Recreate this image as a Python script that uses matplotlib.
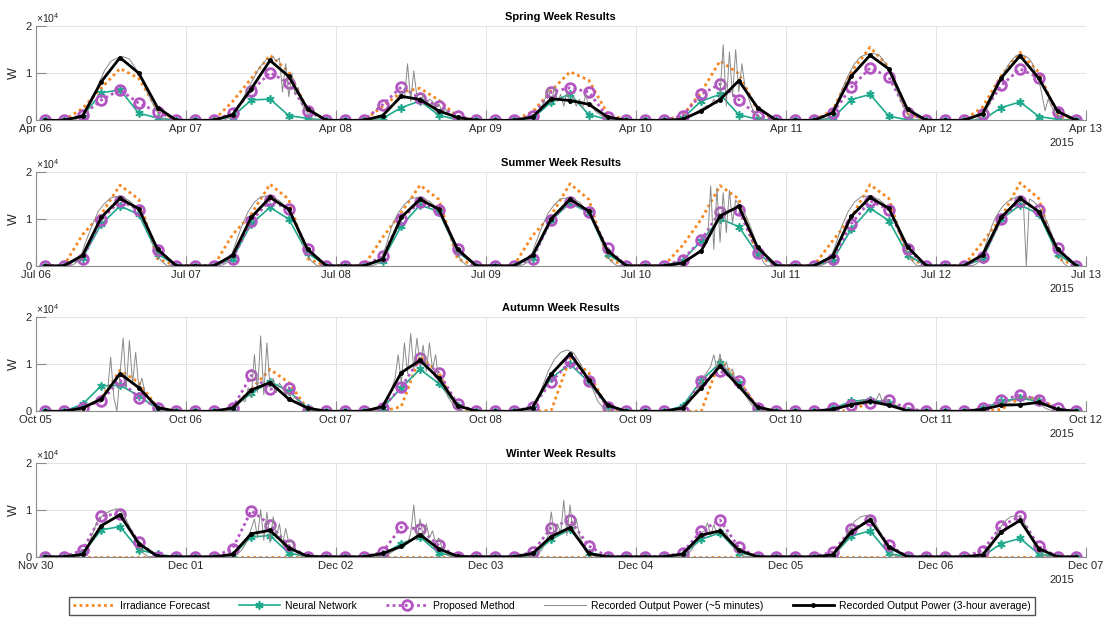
import numpy as np
import matplotlib.pyplot as plt
from datetime import date, timedelta

plt.rcParams['font.family'] = ['Liberation Sans', 'DejaVu Sans']
plt.rcParams['mathtext.fontset'] = 'custom'
plt.rcParams['mathtext.rm'] = 'Liberation Sans'

# 3-hour samples (values in units of 1e4 W), 8 per day
hours3 = [1.5, 4.5, 7.5, 10.5, 13.5, 16.5, 19.5, 22.5]

spring_irr = [0,0,0.25,0.68,1.10,0.89,0.22,0,  0,0,0.40,0.89,1.38,1.03,0.22,0,  0,0,0.29,0.60,0.68,0.43,0.08,0,
              0,0,0.18,0.63,1.03,0.85,0.14,0,  0,0,0.10,0.60,1.26,0.99,0.21,0,  0,0,0.21,1.03,1.55,1.13,0.14,0,
              0,0,0.28,0.95,1.44,1.02,0.10,0]
spring_nn = [0,0,0.08,0.58,0.65,0.15,0.05,0,  0,0,0.08,0.43,0.45,0.10,0.04,0,  0,0,0.04,0.27,0.41,0.11,0.01,0,
             0,0,0.04,0.39,0.56,0.12,0.02,0,  0,0,0.04,0.41,0.55,0.12,0.02,0,  0,0,0.04,0.44,0.55,0.09,0.01,0,
             0,0,0.01,0.27,0.39,0.08,0.02,0]
spring_pm = [0,0,0.11,0.43,0.65,0.36,0.18,0,  0,0,0.15,0.62,1.01,0.79,0.19,0,  0,0,0.33,0.71,0.47,0.30,0.09,0,
             0,0,0.10,0.60,0.69,0.60,0.07,0,  0,0,0.10,0.55,0.77,0.44,0.10,0,  0,0,0.15,0.70,1.11,0.92,0.15,0,
             0,0,0.14,0.74,1.09,0.90,0.18,0]
spring_avg = [0,0,0.09,0.82,1.33,1.00,0.27,0,  0,0,0.12,0.67,1.27,0.93,0.24,0,  0,0,0.10,0.51,0.44,0.20,0.06,0,
              0,0,0.07,0.46,0.42,0.34,0.07,0,  0,0,0.02,0.20,0.44,0.84,0.27,0,  0,0,0.16,0.94,1.38,1.09,0.23,0,
              0,0,0.14,0.90,1.37,0.89,0.19,0]

summer_irr = [0,0,0.66,1.10,1.71,1.41,0.15,0,  0,0,0.66,1.10,1.73,1.41,0.15,0,  0,0,0.60,1.13,1.71,1.41,0.15,0,
              0,0,0.64,1.08,1.74,1.41,0.15,0,  0,0,0.43,0.99,1.70,1.42,0.21,0,  0,0,0.53,1.03,1.72,1.43,0.18,0,
              0,0,0.50,1.03,1.76,1.43,0.16,0]
summer_nn = [0,0,0.17,0.88,1.27,1.09,0.26,0,  0,0,0.15,0.89,1.24,0.99,0.27,0,  0,0,0.11,0.85,1.29,1.15,0.29,0,
             0,0,0.17,0.97,1.33,1.13,0.25,0,  0,0,0.11,0.53,1.00,0.83,0.25,0,  0,0,0.11,0.78,1.22,0.96,0.23,0,
             0,0,0.14,0.99,1.29,1.10,0.25,0]
summer_pm = [0,0,0.15,0.98,1.38,1.19,0.34,0,  0,0,0.15,0.95,1.39,1.20,0.35,0,  0,0,0.20,1.00,1.35,1.18,0.35,0,
             0,0,0.15,0.98,1.36,1.15,0.37,0,  0,0,0.13,0.55,1.15,1.18,0.28,0,  0,0,0.14,0.89,1.38,1.19,0.35,0,
             0,0,0.18,1.00,1.38,1.19,0.37,0]
summer_avg = [0,0,0.22,1.03,1.43,1.21,0.35,0,  0,0,0.22,1.03,1.45,1.20,0.35,0,  0,0,0.14,1.03,1.41,1.20,0.35,0,
              0,0,0.22,1.00,1.41,1.16,0.32,0,  0,0,0.06,0.32,1.06,1.26,0.39,0,  0,0,0.20,1.05,1.45,1.22,0.40,0,
              0,0,0.23,1.03,1.43,1.15,0.35,0]

autumn_irr = [0,0,0.01,0.29,0.87,0.61,0.08,0,  0,0,0.05,0.47,0.89,0.61,0.05,0,  0,0,0,0.10,1.17,0.82,0.01,0,
              0,0,0,0.02,1.13,0.82,0.06,0,  0,0,0,0,1.10,0.65,0.08,0,  0,0,0,0.01,0.20,0.18,0.01,0,
              0,0,0,0.04,0.28,0.28,0.04,0]
autumn_nn = [0,0,0.15,0.54,0.55,0.33,0.05,0,  0,0,0.08,0.38,0.63,0.43,0.07,0,  0,0,0.07,0.50,0.89,0.59,0.12,0,
             0,0,0.08,0.71,1.00,0.62,0.11,0,  0,0,0.11,0.65,1.03,0.60,0.07,0,  0,0,0.06,0.21,0.25,0.18,0.01,0,
             0,0,0.06,0.21,0.28,0.21,0.03,0]
autumn_pm = [0,0,0.08,0.22,0.66,0.29,0.08,0,  0,0,0.07,0.76,0.47,0.50,0,0,  0,0,0.07,0.52,1.12,0.82,0.15,0,
             0,0,0.10,0.62,1.06,0.64,0.09,0,  0,0,0.01,0.65,0.85,0.65,0.08,0,  0,0,0.06,0.14,0.18,0.23,0.06,0,
             0,0,0.06,0.23,0.35,0.25,0.07,0]
autumn_avg = [0,0,0.07,0.26,0.80,0.50,0.08,0,  0,0,0.07,0.45,0.61,0.26,0.07,0,  0,0,0.10,0.82,1.08,0.70,0.12,0,
              0,0,0.08,0.79,1.22,0.67,0.13,0,  0,0,0.07,0.50,0.96,0.53,0.09,0,  0,0,0.04,0.14,0.21,0.13,0.01,0,
              0,0,0.04,0.13,0.14,0.19,0.04,0]

winter_irr = [0]*56
winter_nn = [0,0,0.07,0.57,0.64,0.15,0.05,0,  0,0,0.03,0.42,0.45,0.08,0,0,  0,0,0.05,0.28,0.42,0.08,0,0,
             0,0,0.03,0.37,0.58,0.09,0,0,  0,0,0.04,0.37,0.51,0.09,0,0,  0,0,0.01,0.44,0.55,0.07,0,0,
             0,0,0.01,0.28,0.39,0.06,0,0]
winter_pm = [0,0,0.14,0.87,0.91,0.31,0,0,  0,0,0.17,0.98,0.68,0.24,0,0,  0,0,0.10,0.63,0.59,0.24,0,0,
             0,0,0.10,0.62,0.78,0.23,0,0,  0,0,0.09,0.55,0.78,0.20,0,0,  0,0,0.10,0.58,0.77,0.25,0,0,
             0,0,0.13,0.65,0.86,0.22,0,0]
winter_avg = [0,0,0.05,0.66,0.89,0.28,0.01,0,  0,0,0.05,0.49,0.56,0.19,0.01,0,  0,0,0.07,0.22,0.47,0.17,0.01,0,
              0,0,0.07,0.43,0.62,0.07,0,0,  0,0,0.06,0.46,0.55,0.14,0,0,  0,0,0.04,0.53,0.79,0.21,0,0,
              0,0,0.04,0.53,0.77,0.17,0,0]

# ~5 minute recorded power, read per day between 05:00 and 21:00 (1e4 W)
spring_raw = [
    [0,0,0.05,0.15,0.4,0.75,1.05,1.25,1.32,1.35,1.3,1.1,0.85,0.55,0.28,0.05,0],
    [0,0,0,0.02,0.06,0.12,0.2,0.3,0.42,0.55,0.68,0.8,0.92,1.05,1.15,1.22,1.3,1.28,1.35,1.25,1.32,0.6,1.2,0.5,1.0,0.55,0.7,0.35,0.25,0.15,0.06,0.01,0],
    [0,0,0,0.02,0.05,0.1,0.15,0.22,0.3,0.4,0.5,0.6,0.45,1.2,0.4,1.05,0.5,0.35,0.55,0.3,0.45,0.4,0.25,0.35,0.2,0.25,0.15,0.12,0.08,0.05,0.02,0.01,0],
    [0,0,0,0.01,0.03,0.07,0.12,0.2,0.3,0.45,0.7,0.35,0.72,0.4,0.55,0.3,0.6,0.35,0.5,0.3,0.45,0.25,0.55,0.3,0.35,0.2,0.15,0.1,0.06,0.03,0.01,0,0],
    [0,0,0,0,0.01,0.02,0.04,0.08,0.12,0.16,0.2,0.24,0.28,0.32,0.3,0.45,0.35,0.55,1.6,0.3,1.45,0.5,1.5,0.6,1.2,0.7,0.5,0.3,0.15,0.08,0.03,0.01,0],
    [0,0,0.08,0.3,0.65,0.95,1.2,1.35,1.4,1.42,1.38,1.2,0.9,0.55,0.25,0.05,0],
    [0,0,0,0.02,0.06,0.12,0.2,0.32,0.45,0.6,0.75,0.9,1.02,1.15,1.25,1.32,1.38,1.4,1.38,1.35,1.3,1.2,1.0,0.85,0.55,0.2,0.45,0.3,0.18,0.1,0.04,0.01,0],
]
summer_raw = [
    [0,0.02,0.12,0.5,0.85,1.15,1.32,1.44,1.47,1.45,1.38,1.25,1.05,0.75,0.4,0.12,0],
    [0,0.02,0.1,0.48,0.85,1.15,1.35,1.46,1.48,1.45,1.38,1.25,1.04,0.75,0.42,0.12,0],
    [0,0.01,0.06,0.4,0.85,1.12,1.3,1.42,1.45,1.43,1.37,1.25,1.05,0.75,0.4,0.12,0],
    [0,0.02,0.1,0.48,0.83,1.12,1.3,1.42,1.44,1.42,1.35,1.2,1.0,0.72,0.38,0.1,0],
    [0,0,0,0.01,0.03,0.06,0.1,0.15,0.2,0.25,0.3,0.35,0.42,0.5,1.7,0.35,1.65,0.5,1.55,0.7,1.6,0.9,1.4,1.3,1.22,1.1,0.95,0.78,0.6,0.4,0.2,0.06,0],
    [0,0.02,0.1,0.45,0.85,1.15,1.35,1.46,1.48,1.46,1.4,1.28,1.08,0.78,0.45,0.14,0],
    [0,0,0.01,0.04,0.1,0.25,0.45,0.65,0.85,1.0,1.12,1.22,1.3,1.36,1.4,1.44,1.45,1.46,1.44,0.0,1.42,1.38,1.32,1.25,1.15,1.02,0.88,0.7,0.52,0.35,0.18,0.05,0],
]
autumn_raw = [
    [0,0,0,0,0.02,0.05,0.08,0.12,0.15,0.2,0.25,0.3,0.35,0.4,1.15,0.3,0.0,0.8,1.55,0.5,1.5,0.6,1.25,0.5,0.7,0.4,0.3,0.18,0.1,0.05,0.02,0,0],
    [0,0,0,0,0.02,0.05,0.1,0.15,0.25,0.2,0.5,0.3,1.2,0.4,1.6,0.35,1.45,0.5,0.7,0.4,0.6,0.5,0.35,0.4,0.25,0.3,0.2,0.12,0.08,0.04,0.02,0,0],
    [0,0,0,0.01,0.04,0.08,0.15,0.3,0.5,0.7,1.2,0.6,1.45,0.8,1.65,0.9,1.55,1.0,1.4,0.85,1.45,0.9,1.2,0.6,0.7,0.45,0.3,0.2,0.12,0.06,0.02,0,0],
    [0,0,0.02,0.15,0.5,0.85,1.1,1.25,1.3,1.25,1.05,0.8,0.5,0.2,0.05,0,0],
    [0,0,0,0,0.02,0.05,0.1,0.18,0.28,0.38,0.5,0.62,0.75,0.85,0.95,1.2,0.9,1.22,0.85,1.05,0.8,0.9,0.6,0.55,0.45,0.35,0.25,0.15,0.08,0.04,0.01,0,0],
    [0,0,0,0,0.01,0.02,0.04,0.06,0.09,0.12,0.15,0.17,0.2,0.18,0.22,0.25,0.2,0.28,0.22,0.25,0.38,0.2,0.3,0.15,0.12,0.1,0.08,0.05,0.03,0.01,0,0,0],
    [0,0,0,0,0.01,0.02,0.04,0.06,0.09,0.12,0.14,0.15,0.17,0.2,0.22,0.25,0.28,0.3,0.27,0.3,0.25,0.3,0.22,0.18,0.12,0.07,0.04,0.02,0.01,0,0,0,0],
]
winter_raw = [
    [0,0,0,0.12,0.45,0.8,0.9,0.98,1.02,0.92,0.65,0.35,0.1,0,0,0,0],
    [0,0,0,0,0,0.01,0.03,0.08,0.15,0.25,0.4,0.6,0.8,0.4,1.0,0.35,0.95,0.3,0.85,0.4,0.7,0.25,0.6,0.3,0.35,0.15,0.05,0.01,0,0,0,0,0],
    [0,0,0,0,0,0.01,0.03,0.06,0.1,0.15,0.2,0.25,0.3,0.28,0.5,1.1,0.35,0.8,0.45,0.7,0.4,0.55,0.3,0.4,0.2,0.1,0.03,0.01,0,0,0,0,0],
    [0,0,0,0,0,0.01,0.03,0.08,0.15,0.3,0.45,0.95,0.4,0.7,0.5,1.2,0.45,1.1,0.5,0.8,0.45,0.3,0.15,0.08,0.03,0.01,0,0,0,0,0,0,0],
    [0,0,0,0,0,0.01,0.03,0.08,0.15,0.3,0.42,0.5,0.55,0.72,0.45,0.68,0.5,0.62,0.48,0.5,0.35,0.25,0.15,0.08,0.03,0.01,0,0,0,0,0,0,0],
    [0,0,0,0.03,0.25,0.55,0.75,0.85,0.88,0.8,0.55,0.25,0.05,0,0,0,0],
    [0,0,0,0.03,0.25,0.55,0.75,0.85,0.87,0.78,0.5,0.2,0.04,0,0,0,0],
]

panels = [
    ("Spring Week Results", date(2015, 4, 6), spring_irr, spring_nn, spring_pm, spring_raw, spring_avg),
    ("Summer Week Results", date(2015, 7, 6), summer_irr, summer_nn, summer_pm, summer_raw, summer_avg),
    ("Autumn Week Results", date(2015, 10, 5), autumn_irr, autumn_nn, autumn_pm, autumn_raw, autumn_avg),
    ("Winter Week Results", date(2015, 11, 30), winter_irr, winter_nn, winter_pm, winter_raw, winter_avg),
]

c_irr = '#f7871f'
c_nn = '#1fa98c'
c_pm = '#b356c2'
c_raw = '#8a8a8a'
c_axis = '#8c8c8c'
c_text = '#262626'

fig = plt.figure(figsize=(11.04, 6.17), dpi=100)
bottoms = [0.8050, 0.5692, 0.3334, 0.0976]

x3 = np.array([d + h / 24 for d in range(7) for h in hours3])

for i, (title, start, irr, nn, pm, raw, avg) in enumerate(panels):
    ax = fig.add_axes([0.0323, bottoms[i], 0.9511, 0.1528])
    xr, yr = [], []
    for d, vals in enumerate(raw):
        xr.extend(d + np.linspace(5, 21, len(vals)) / 24)
        yr.extend(vals)
    h1, = ax.plot(x3, np.array(irr) * 1e4, color=c_irr, lw=2.0, ls=(0, (1, 1.2)))
    h2, = ax.plot(x3, np.array(nn) * 1e4, color=c_nn, lw=1.2, marker=(6, 2, 0), ms=6, mew=1.2)
    h3, = ax.plot(x3, np.array(pm) * 1e4, color=c_pm, lw=2.0, ls=(0, (1, 1.2)),
                  marker='o', ms=7, mfc='none', mew=2)
    h4, = ax.plot(xr, np.array(yr) * 1e4, color=c_raw, lw=0.7)
    h5, = ax.plot(x3, np.array(avg) * 1e4, color='black', lw=2.0, marker='.', ms=5)

    ax.set_xlim(0, 7)
    ax.set_ylim(0, 2e4)
    ax.set_xticks(range(8))
    ax.set_xticklabels([(start + timedelta(days=k)).strftime('%b %d') for k in range(8)])
    ax.set_yticks([0, 1e4, 2e4])
    ax.set_yticklabels(['0', '1', '2'])
    ax.grid(True, color='#e3e3e3', lw=0.7)
    ax.set_axisbelow(True)
    for s in ['top', 'right']:
        ax.spines[s].set_visible(False)
    for s in ['left', 'bottom']:
        ax.spines[s].set_color(c_axis)
        ax.spines[s].set_linewidth(0.8)
    ax.tick_params(direction='in', length=7.5, width=0.8, color=c_axis,
                   labelcolor=c_text, labelsize=8, pad=3)
    ax.set_ylabel('W', fontsize=9, color=c_text, labelpad=4)
    ax.set_title(title, fontsize=8, fontweight='bold', color='black', pad=4)
    ax.text(0.0, 1.01, r'$\times\mathregular{10^4}$', transform=ax.transAxes, fontsize=7.5,
            color=c_text, ha='left', va='bottom')
    ax.text(0.977, -0.245, '2015', transform=ax.transAxes, fontsize=8, color=c_text,
            ha='center', va='center')

fig.legend([h1, h2, h3, h4, h5],
           ['Irradiance Forecast', 'Neural Network', 'Proposed Method',
            'Recorded Output Power (~5 minutes)', 'Recorded Output Power (3-hour average)'],
           loc='center', bbox_to_anchor=(0.5, 0.018), ncol=5, fontsize=7.5,
           frameon=True, fancybox=False, edgecolor=c_text, borderpad=0.4,
           handlelength=4.0, columnspacing=2.8, handletextpad=0.5)

fig.savefig('out.png', dpi=100)
